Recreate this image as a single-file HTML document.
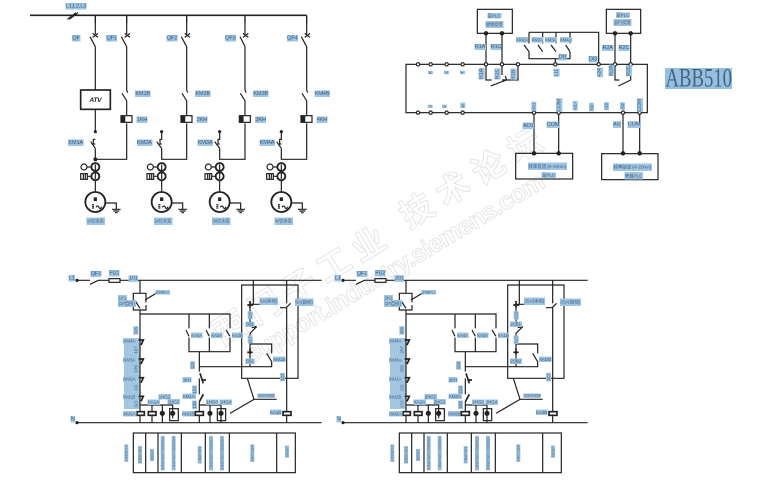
<!DOCTYPE html>
<html><head><meta charset="utf-8">
<style>
html,body{margin:0;padding:0;background:#fff;width:774px;height:491px;overflow:hidden}
svg{display:block}
text{font-family:"Liberation Sans","Noto Sans CJK SC",sans-serif}
.w path,.w rect,.w circle,.w line{fill:none;stroke:#222;stroke-width:3.6}
.w .f{fill:#222}
.w .h{fill:#fff}
.w .t{stroke-width:5}
.l{font-size:17px;fill:#24466a;text-anchor:middle;filter:url(#bg);letter-spacing:-.6px}
.s{font-size:13px;letter-spacing:-.4px}
.v{font-size:8.5px;letter-spacing:0}
.n{font-size:14px}
.wm{fill:#fff;stroke:#e6e6e6;stroke-width:1;font-weight:bold}
</style></head><body>
<svg width="774" height="491" viewBox="0 0 774 491" xmlns="http://www.w3.org/2000/svg">
<defs>
<filter id="bg" x="0" y="0" width="1" height="1"><feFlood flood-color="#9fc5e3"/><feMerge><feMergeNode/><feMergeNode in="SourceGraphic"/></feMerge></filter>
<g id="motor" class="w">
<circle class="h" cx="0" cy="0" r="30" style="stroke-width:5.5"/>
<path d="M0 -14V-3M-3 -14V-3M3 -14V-3M-10 8H-4M-10 13H-4M-10 18H-4M2 16q5 -8 9 0t8 -2"/>
<path d="M31 3H63V22M50 22H76M54 27H72M59 32H67"/>
</g>
<g id="meters" class="w">
<circle class="h" cx="0" cy="0" r="12" style="stroke-width:5.5"/>
<circle class="h" cx="0" cy="28" r="12" style="stroke-width:5.5"/>
<path d="M0 -8V36"/>
<circle class="h" cx="-34" cy="0" r="9"/>
<rect class="h" x="-44" y="20" width="20" height="17"/>
<path d="M-36 20V37M-30 20V37M-24 0H-12M-24 28H-12"/>
</g>
<g id="kh" class="w"><rect class="h" x="-17" y="0" width="33" height="20"/><rect class="f" x="-14" y="3" width="8" height="14"/></g>
<g id="circuit" class="w">
<path d="M48 46H90M90 58L115 46H147M180 46H785"/>
<rect x="147" y="41" width="33" height="11" class="h"/>
<circle class="f" cx="51" cy="46" r="3"/>
<path d="M48 473H785"/><circle class="f" cx="51" cy="473" r="3"/>
<path d="M240 46V85M240 135V473"/>
<path d="M220 112V85H258V112M258 120V135H220V120M224 105L240 130M255 105L288 85H330"/>
<path d="M240 147H510V260H387V147M448 147V260"/>
<path class="h" d="M387 190V218M448 190V218M510 190V218" style="stroke:#fff;stroke-width:7"/>
<path d="M378 195L387 214M438 195L448 214M498 195L510 214"/>
<path d="M418 260V320M418 340V388M418 410V473M418 305H635V290M635 290L620 265M635 265V237H570"/>
<path class="t" d="M420 325L430 355M424 345H438"/>
<path class="t" d="M418 410L430 388"/>
<path d="M545 60H714V340H545Z"/>
<path d="M580 46V118M680 46V115M680 128V473"/>
<path d="M570 118H650M570 118V183M570 205V305M570 205L590 185M660 128H678L692 115"/>
<path class="t" d="M562 120H580M570 108V128M562 262H578M570 250V268M575 187L590 185"/>
<path d="M562 340L582 403L510 445M582 403H650"/>
<path d="M240 420H338V460M276 420V473M307 420V473M418 420H483V473"/>
<path d="M450 420V473"/>
<path class="t" d="M236 225H250L243 240M236 282H250L243 297M236 338H250L243 353M236 394H250L243 409"/>
<rect class="h t" x="231" y="440" width="22" height="11"/>
<rect class="h t" x="265" y="440" width="23" height="11"/>
<rect class="h t" x="406" y="440" width="24" height="11"/>
<rect class="h t" x="669" y="440" width="24" height="11"/>
<circle class="f" cx="307" cy="445" r="6"/>
<circle class="f" cx="450" cy="445" r="6"/>
<rect x="329" y="431" width="26" height="36"/>
<rect x="472" y="431" width="25" height="36"/>
<circle class="f" cx="338" cy="445" r="6"/>
<circle class="f" cx="483" cy="445" r="6"/>
<rect x="220" y="504" width="486" height="119"/>
<path d="M257 504V623M294 504V623M364 504V623M436 504V623M508 504V623M650 504V623"/>
</g>
</defs>

<!-- watermark -->
<text class="wm" transform="translate(230,327) rotate(-31)" x="-17" y="12" font-size="33" letter-spacing="7.5">西门子工业</text>
<text class="wm" transform="translate(417,210) rotate(-31)" x="-17" y="12" font-size="33" letter-spacing="9">技术论坛</text>
<text class="wm" transform="translate(247,357) rotate(-31)" x="0" y="8" font-size="25" textLength="345">support.industry.siemens.com</text>

<!-- top left -->
<g transform="translate(50,0) scale(.33333)">
<g class="w">
<path d="M-60 46H770" class="t"/>
<path d="M136 46V70M230 46V70M410 46V70M585 46V70M770 46V70"/>
<path d="M52 58L78 38M58 58L84 38"/>
<path d="M136 46V102M136 140V270M136 328V395M136 445V478M230 46V102M230 140V270M230 302V345M230 370V478H136"/>
<path d="M410 46V102M410 140V270M410 302V345M410 370V478H335V445M335 420V395"/>
<path d="M585 46V102M585 140V270M585 302V345M585 370V478H509V445M509 420V395"/>
<path d="M770 46V102M770 140V270M770 302V345M770 370V478H694V445M694 420V395"/>
<path d="M120 110L136 140M128 100L144 112M144 100L128 112"/>
<path d="M214 110L230 140M224 100L240 112M240 100L224 112"/>
<path d="M394 110L410 140M404 100L420 112M420 100L404 112"/>
<path d="M570 110L585 140M579 100L595 112M595 100L579 112"/>
<path d="M754 110L770 140M764 100L780 112M780 100L764 112"/>
<path d="M216 280L230 302M230 270L233 278M396 280L410 302M410 270L413 278M571 280L585 302M585 270L588 278M756 280L770 302M770 270L773 278"/>
<path d="M122 425L136 445M136 418H130V432H136M320 425L335 445M335 418H330V432H335M494 425L509 445M509 418H504V432H509M680 425L694 445M694 418H689V432H694"/>
<rect class="h" x="92" y="270" width="89" height="58" style="stroke-width:5"/>
<circle class="f" cx="136" cy="395" r="3"/><circle class="f" cx="335" cy="395" r="3"/><circle class="f" cx="509" cy="395" r="3"/><circle class="f" cx="694" cy="395" r="3"/>
<circle class="f" cx="136" cy="478" r="4"/>
<path d="M136 540V575M335 540V575M509 540V575M694 540V575"/>
</g>
<use href="#kh" x="230" y="347"/><use href="#kh" x="410" y="347"/><use href="#kh" x="585" y="347"/><use href="#kh" x="770" y="347"/>
<use href="#meters" x="136" y="501"/><use href="#meters" x="335" y="501"/><use href="#meters" x="509" y="501"/><use href="#meters" x="694" y="501"/>
<use href="#motor" x="136" y="606"/><use href="#motor" x="335" y="606"/><use href="#motor" x="509" y="606"/><use href="#motor" x="694" y="606"/>
<text x="136" y="306" font-size="20" font-weight="bold" font-style="italic" text-anchor="middle" fill="#222" letter-spacing="-1">ATV</text>
<text class="l" x="78" y="22">L1,L2,L3</text>
<text class="l" x="78" y="118">QF</text><text class="l" x="185" y="118">QF1</text><text class="l" x="366" y="118">QF2</text><text class="l" x="541" y="118">QF3</text><text class="l" x="727" y="118">QF4</text>
<text class="l" x="278" y="285">KM1B</text><text class="l" x="458" y="285">KM2B</text><text class="l" x="632" y="285">KM3B</text><text class="l" x="816" y="285">KM4B</text>
<text class="l" x="276" y="363">1KH</text><text class="l" x="456" y="363">2KH</text><text class="l" x="632" y="363">3KH</text><text class="l" x="816" y="363">4KH</text>
<text class="l" x="77" y="432">KM1A</text><text class="l" x="283" y="432">KM2A</text><text class="l" x="465" y="432">KM3A</text><text class="l" x="651" y="432">KM4A</text>
<text class="l s" x="136" y="668">1#饮水泵</text><text class="l s" x="338" y="668">2#饮水泵</text><text class="l s" x="513" y="668">3#饮水泵</text><text class="l s" x="700" y="668">4#饮水泵</text>
</g>

<!-- top right -->
<g transform="translate(400,0) scale(.33333)">
<g class="w">
<rect x="18" y="193" width="724" height="145"/>
<rect x="232" y="28" width="105" height="72"/>
<rect x="619" y="28" width="103" height="72"/>
<rect x="347" y="460" width="171" height="77"/>
<rect x="605" y="461" width="169" height="78"/>
<path d="M258 100V193M306 100V193M645 100V193M692 100V193M402 338V460M476 338V460M669 338V460M719 338V460"/>
<path d="M387 97H596V193M428 97V130M468 97V130M510 97V130M387 97V130M387 155V176H510V155M466 176V193"/>
<path d="M372 135L387 155M414 135L428 155M453 135L468 155M497 135L510 155"/>
<path d="M258 193V240H275M306 193V225M354 193V240H320L272 258M306 240H320L316 228M645 193V240H658M692 193V240L655 258"/>
<g>
<circle class="h" cx="54" cy="193" r="5"/><circle class="h" cx="92" cy="193" r="5"/><circle class="h" cx="140" cy="193" r="5"/><circle class="h" cx="188" cy="193" r="5"/><circle class="h" cx="258" cy="193" r="5"/><circle class="h" cx="306" cy="193" r="5"/><circle class="h" cx="354" cy="193" r="5"/><circle class="h" cx="466" cy="193" r="5"/><circle class="h" cx="596" cy="193" r="5"/><circle class="h" cx="645" cy="193" r="5"/><circle class="h" cx="692" cy="193" r="5"/>
<circle class="h" cx="54" cy="338" r="5"/><circle class="h" cx="92" cy="338" r="5"/><circle class="h" cx="140" cy="338" r="5"/><circle class="h" cx="188" cy="338" r="5"/><circle class="h" cx="402" cy="338" r="5"/><circle class="h" cx="476" cy="338" r="5"/><circle class="h" cx="669" cy="338" r="5"/><circle class="h" cx="719" cy="338" r="5"/>
<circle class="f" cx="258" cy="100" r="5"/><circle class="f" cx="306" cy="100" r="5"/><circle class="f" cx="645" cy="100" r="5"/><circle class="f" cx="692" cy="100" r="5"/>
<circle class="f" cx="402" cy="460" r="5"/><circle class="f" cx="476" cy="460" r="5"/><circle class="f" cx="669" cy="460" r="5"/><circle class="f" cx="719" cy="460" r="5"/>
</g>
</g>
<text class="l n" x="282" y="52">至PLC</text><text class="l s" x="282" y="78">故障反馈</text>
<text class="l n" x="668" y="50">至PLC</text><text class="l s" x="666" y="72">运行反馈</text>
<text class="l" x="240" y="144">R1A</text><text class="l" x="288" y="144">R1C</text><text class="l" x="623" y="147">R2A</text><text class="l" x="672" y="147">R2C</text>
<text class="l s" x="366" y="124">KM1A</text><text class="l s" x="412" y="124">KM2A</text><text class="l s" x="452" y="124">KM3A</text><text class="l s" x="497" y="124">KM4A</text>
<text class="l" x="488" y="175">DI1</text><text class="l" x="579" y="181">DI3</text>
<g>
<text class="l s" transform="translate(96,218) rotate(-90)">R</text>
<text class="l s" transform="translate(144,218) rotate(-90)">S</text>
<text class="l s" transform="translate(192,218) rotate(-90)">T</text>
<text class="l" transform="translate(248,222) rotate(-90)">R1A</text>
<text class="l" transform="translate(296,222) rotate(-90)">R1C</text>
<text class="l" transform="translate(344,224) rotate(-90)">R1B</text>
<text class="l" transform="translate(473,218) rotate(-90)">LI1</text>
<text class="l" transform="translate(603,218) rotate(-90)">+24</text>
<text class="l" transform="translate(638,212) rotate(-90)">R2A</text>
<text class="l" transform="translate(690,212) rotate(-90)">R2C</text>
<text class="l s" transform="translate(95,319) rotate(-90)">U</text>
<text class="l s" transform="translate(138,320) rotate(-90)">V</text>
<text class="l s" transform="translate(193,318) rotate(-90)">W</text>
<text class="l s" transform="translate(406,320) rotate(-90)">AO1</text>
<text class="l" transform="translate(481,316) rotate(-90)">COM</text>
<text class="l s" transform="translate(530,318) rotate(-90)">AI1+</text>
<text class="l s" transform="translate(579,322) rotate(-90)">AI1-</text>
<text class="l s" transform="translate(624,320) rotate(-90)">+10</text>
<text class="l s" transform="translate(672,319) rotate(-90)">AI2</text>
<text class="l" transform="translate(723,316) rotate(-90)">COM</text>
</g>
<text class="l" x="385" y="381">AO1</text><text class="l" x="459" y="378">COM</text><text class="l" x="651" y="377">AI2</text><text class="l" x="702" y="377">COM</text>
<text class="l n" x="442" y="504">频率反馈 (0~20mA)</text><text class="l n" x="445" y="530">至PLC</text>
<text class="l n" x="697" y="506">频率给定 (4~20mA)</text><text class="l n" x="700" y="532">来自PLC</text>
</g>
<rect x="665" y="68" width="67" height="21" fill="#94bfdf"/>
<text transform="translate(665.5,86.5) scale(.72,1)" font-size="26" fill="#45627f" style="font-family:'Liberation Serif',serif">ABB510</text>

<!-- panels -->
<rect x="124" y="338" width="16" height="71" fill="#a3c6e2"/>
<rect x="390" y="338" width="16" height="71" fill="#a3c6e2"/>

<!-- bottom left -->
<g transform="translate(60,265) scale(.33333)">
<use href="#circuit"/>
<text class="l" x="35" y="43">L1</text><text class="l" x="108" y="30">QF1</text><text class="l" x="163" y="28">FU1</text><text class="l" x="220" y="44">101</text><text class="l" x="38" y="466">N</text>
<text class="l n" x="187" y="103">1K1</text><text class="l n" x="200" y="120">(1#自投)</text>
<text class="l v" x="308" y="85">可控制PLC</text>
<text class="l n" x="208" y="233">KM4A</text><text class="l n" x="208" y="290">KM3A</text><text class="l n" x="208" y="347">KM2A</text><text class="l n" x="208" y="400">KM1B</text><text class="l n" x="208" y="451">KM1A</text>
<text class="l n" transform="translate(232,197) rotate(-90)">105</text><text class="l n" transform="translate(232,255) rotate(-90)">107</text><text class="l n" transform="translate(232,312) rotate(-90)">109</text><text class="l n" transform="translate(232,368) rotate(-90)">111</text><text class="l n" transform="translate(232,418) rotate(-90)">113</text>
<text class="l s" x="410" y="216">KA4A</text><text class="l s" x="470" y="216">KA3A</text><text class="l s" x="532" y="216">KA3B</text>
<text class="l n" transform="translate(402,302) rotate(-90)">119</text><text class="l n" x="381" y="349">1KH</text><text class="l n" transform="translate(408,375) rotate(-90)">123</text>
<text class="l n" x="386" y="399">KM1A</text><text class="l n" transform="translate(408,420) rotate(-90)">125</text>
<text class="l n" x="385" y="451">KM1B</text>
<text class="l n" x="313" y="400">1HG1</text><text class="l n" x="280" y="416">KA1A</text><text class="l n" x="340" y="415">1HG2</text><text class="l n" x="456" y="416">1HG3</text><text class="l n" x="496" y="416">1HG4</text>
<text class="l n" x="625" y="113">SA(手动)</text><text class="l n" x="732" y="116">SA(自动)</text>
<text class="l n" transform="translate(575,152) rotate(-90)">115</text><text class="l n" x="569" y="182">SB1</text><text class="l n" transform="translate(575,225) rotate(-90)">117</text><text class="l n" x="569" y="293">SB2</text><text class="l n" x="658" y="288">KM1B</text><text class="l n" transform="translate(672,337) rotate(-90)">127</text>
<text class="l v" x="618" y="395">就地控制回路</text>
<text class="l n" x="647" y="447">KA1B</text>
<text class="l v" transform="translate(202,565) rotate(-90)">水泵控制方式</text>
<text class="l v" transform="translate(243,570) rotate(-90)">变频运行指令</text>
<text class="l v" transform="translate(279,570) rotate(-90)">变频运行</text>
<text class="l v" transform="translate(311,565) rotate(-90)">变频运行指示灯及故障指示</text>
<text class="l v" transform="translate(344,565) rotate(-90)">工频运行指示灯及故障指示</text>
<text class="l v" transform="translate(422,570) rotate(-90)">工频运行指令</text>
<text class="l v" transform="translate(456,565) rotate(-90)">工频运行指示灯及故障指示</text>
<text class="l v" transform="translate(489,565) rotate(-90)">变频运行指示灯及故障指示</text>
<text class="l v" transform="translate(580,565) rotate(-90)">控制方式选择</text>
<text class="l v" transform="translate(684,560) rotate(-90)">自动运行</text>
</g>

<!-- bottom right -->
<g transform="translate(326,265) scale(.33333)">
<use href="#circuit"/>
<text class="l" x="35" y="43">L1</text><text class="l" x="108" y="30">QF1</text><text class="l" x="163" y="28">FU2</text><text class="l" x="220" y="44">201</text><text class="l" x="38" y="466">N</text>
<text class="l n" x="187" y="103">2K1</text><text class="l n" x="200" y="120">(2#自投)</text>
<text class="l v" x="308" y="85">可控制PLC</text>
<text class="l n" x="208" y="233">KM4A</text><text class="l n" x="208" y="290">KM3A</text><text class="l n" x="208" y="347">KM1A</text><text class="l n" x="208" y="400">KM2B</text><text class="l n" x="208" y="451">KM2A</text>
<text class="l n" transform="translate(232,197) rotate(-90)">205</text><text class="l n" transform="translate(232,255) rotate(-90)">207</text><text class="l n" transform="translate(232,312) rotate(-90)">209</text><text class="l n" transform="translate(232,368) rotate(-90)">211</text><text class="l n" transform="translate(232,418) rotate(-90)">213</text>
<text class="l s" x="410" y="216">KA4A</text><text class="l s" x="470" y="216">KA3A</text><text class="l s" x="532" y="216">KA1B</text>
<text class="l n" transform="translate(402,302) rotate(-90)">219</text><text class="l n" x="381" y="349">2KH</text><text class="l n" transform="translate(408,375) rotate(-90)">223</text>
<text class="l n" x="386" y="399">KM2A</text><text class="l n" transform="translate(408,420) rotate(-90)">225</text>
<text class="l n" x="385" y="451">KM2B</text>
<text class="l n" x="313" y="400">2HG1</text><text class="l n" x="280" y="416">KA2A</text><text class="l n" x="340" y="415">2HG2</text><text class="l n" x="456" y="416">2HG3</text><text class="l n" x="496" y="416">2HG4</text>
<text class="l n" x="625" y="113">2SA(手动)</text><text class="l n" x="732" y="116">2SA(自动)</text>
<text class="l n" transform="translate(575,152) rotate(-90)">215</text><text class="l n" x="569" y="182">2SB1</text><text class="l n" transform="translate(575,225) rotate(-90)">217</text><text class="l n" x="569" y="293">2SB2</text><text class="l n" x="658" y="288">KM2B</text><text class="l n" transform="translate(672,337) rotate(-90)">227</text>
<text class="l v" x="618" y="395">就地控制回路</text>
<text class="l n" x="647" y="447">KA2B</text>
<text class="l v" transform="translate(202,565) rotate(-90)">水泵控制方式</text>
<text class="l v" transform="translate(243,570) rotate(-90)">变频运行指令</text>
<text class="l v" transform="translate(279,570) rotate(-90)">变频运行</text>
<text class="l v" transform="translate(311,565) rotate(-90)">变频运行指示灯及故障指示</text>
<text class="l v" transform="translate(344,565) rotate(-90)">工频运行指示灯及故障指示</text>
<text class="l v" transform="translate(422,570) rotate(-90)">工频运行指令</text>
<text class="l v" transform="translate(456,565) rotate(-90)">工频运行指示灯及故障指示</text>
<text class="l v" transform="translate(489,565) rotate(-90)">变频运行指示灯及故障指示</text>
<text class="l v" transform="translate(580,565) rotate(-90)">控制方式选择</text>
<text class="l v" transform="translate(684,560) rotate(-90)">自动运行</text>
</g>
</svg>
</body></html>
